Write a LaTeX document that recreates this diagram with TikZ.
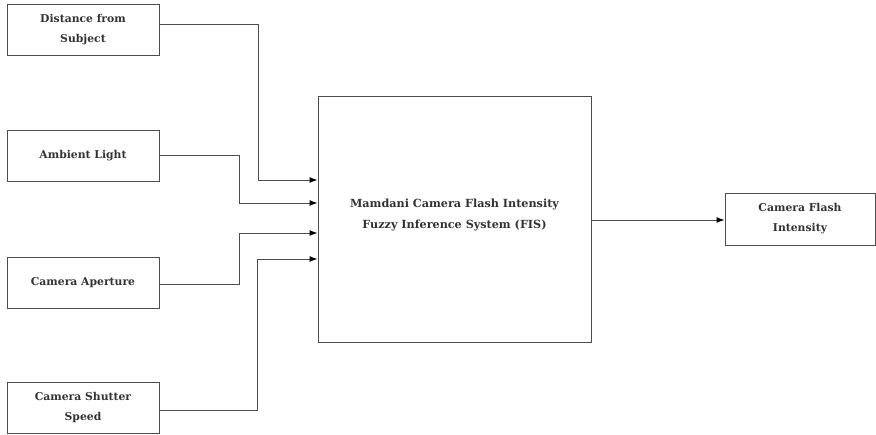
\documentclass[tikz,border=0pt]{standalone}
\usepackage{fontspec}
\setmainfont{DejaVu Serif}
\usetikzlibrary{arrows.meta}
\begin{document}
\begin{tikzpicture}[x=1pt,y=-1pt,
  box/.style={draw=black!70,line width=1pt,inner sep=0pt,align=center,font=\fontsize{10.8}{20}\selectfont\bfseries,text=black!80},
  conn/.style={draw=black!70,line width=1pt,-{Latex[length=8pt,width=6pt,black]}}]
\useasboundingbox[fill=white] (0,0) rectangle (876,434);
\node[box,minimum width=152pt,minimum height=51pt] (d) at (83,29.5) {Distance from\\Subject};
\node[box,minimum width=152pt,minimum height=51pt] (a) at (83,155.5) {Ambient Light};
\node[box,minimum width=152pt,minimum height=51pt] (p) at (83,282.5) {Camera Aperture};
\node[box,minimum width=152pt,minimum height=51pt] (s) at (83,408) {Camera Shutter\\Speed};
\node[box,minimum width=273pt,minimum height=246pt] (m) at (454.5,219) {};
\node[font=\fontsize{11.2}{21}\selectfont\bfseries,text=black!80,align=center] (mt) at (454.5,214.5) {Mamdani Camera Flash Intensity\\Fuzzy Inference System (FIS)};
\node[box,minimum width=150pt,minimum height=52pt] (o) at (800,219) {Camera Flash\\Intensity};
\draw[conn] (d.east |- 0,24) -| (258,180) -- (m.west |- 0,180);
\draw[conn] (a.east) -| (239,203) -- (m.west |- 0,203);
\draw[conn] (p.east |- 0,284) -| (239,233) -- (m.west |- 0,233);
\draw[conn] (s.east |- 0,410) -| (257,259) -- (m.west |- 0,259);
\draw[conn] (m.east |- 0,220) -- (o.west |- 0,220);
\end{tikzpicture}
\end{document}
